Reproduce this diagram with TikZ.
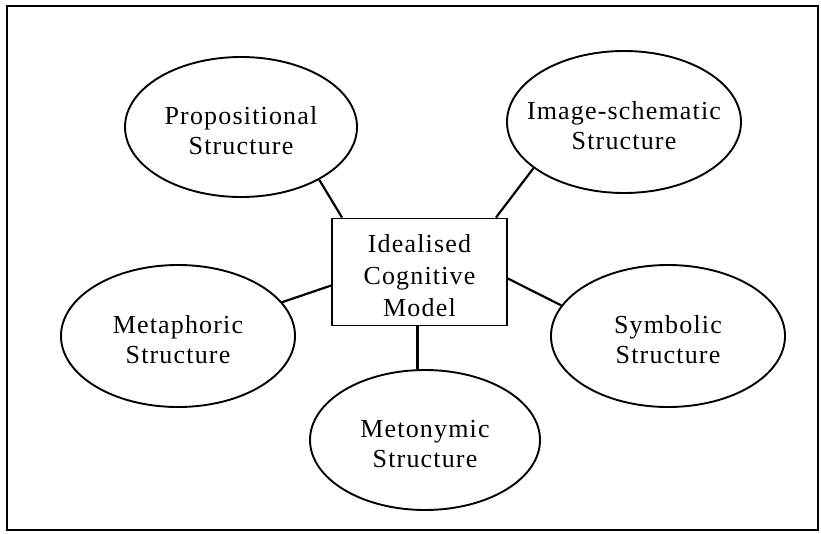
\documentclass[tikz,border=0pt]{standalone}
\usepackage{fontspec}
\setmainfont[LetterSpace=4.5]{Liberation Serif}
\usetikzlibrary{shapes.geometric,calc}
\begin{document}
\begin{tikzpicture}[x=1pt,y=-1pt,line width=1.9pt,
  structure/.style={draw,ellipse,inner sep=0pt,
    minimum width=232pt,minimum height=140pt},
  caption/.style={align=center,inner sep=0pt,yshift=-4pt,
    font=\fontsize{26}{30}\selectfont},
  centrebox/.style={draw,rectangle,inner sep=0pt,
    minimum width=175pt,minimum height=107pt},
  boxcaption/.style={caption,font=\fontsize{26}{32}\selectfont},
  link/.style={line width=2.2pt}]
  \useasboundingbox (0,0) rectangle (821,533);
  % outer frame
  \draw[line width=1.6pt] (7,6) rectangle (818,530);

  % central model
  \node[centrebox] (icm) at (419.5,272) {};
  \node[boxcaption] (icmText) at (icm.center) {Idealised\\Cognitive\\Model};

  % surrounding structures
  \node[structure] (prop) at (241,127) {};
  \node[caption] (propText) at (prop.center) {Propositional\\Structure};
  \node[structure,minimum width=234pt,minimum height=142pt] (img) at (624,122) {};
  \node[caption] (imgText) at (img.center) {Image-schematic\\Structure};
  \node[structure,minimum width=234pt,minimum height=142pt] (meta) at (178,336) {};
  \node[caption] (metaText) at (meta.center) {Metaphoric\\Structure};
  \node[structure,minimum width=234pt,minimum height=142pt] (sym) at (668,336) {};
  \node[caption] (symText) at (sym.center) {Symbolic\\Structure};
  \node[structure,minimum width=230pt,minimum height=140pt] (meto) at (425,440) {};
  \node[caption] (metoText) at (meto.center) {Metonymic\\Structure};

  % connectors
  \draw[link] (prop.-34.5) -- ($(icm.north west)+(11,0)$);
  \draw[link] (img.207) -- ($(icm.north east)+(-12,0)$);
  \draw[link] (meta.18.8) -- ($(icm.north west)+(0,68)$);
  \draw[link] ($(icm.north east)+(0,61)$) -- (sym.164);
  \draw[link] (icm.south -| meto.96) -- (meto.96);
\end{tikzpicture}
\end{document}
